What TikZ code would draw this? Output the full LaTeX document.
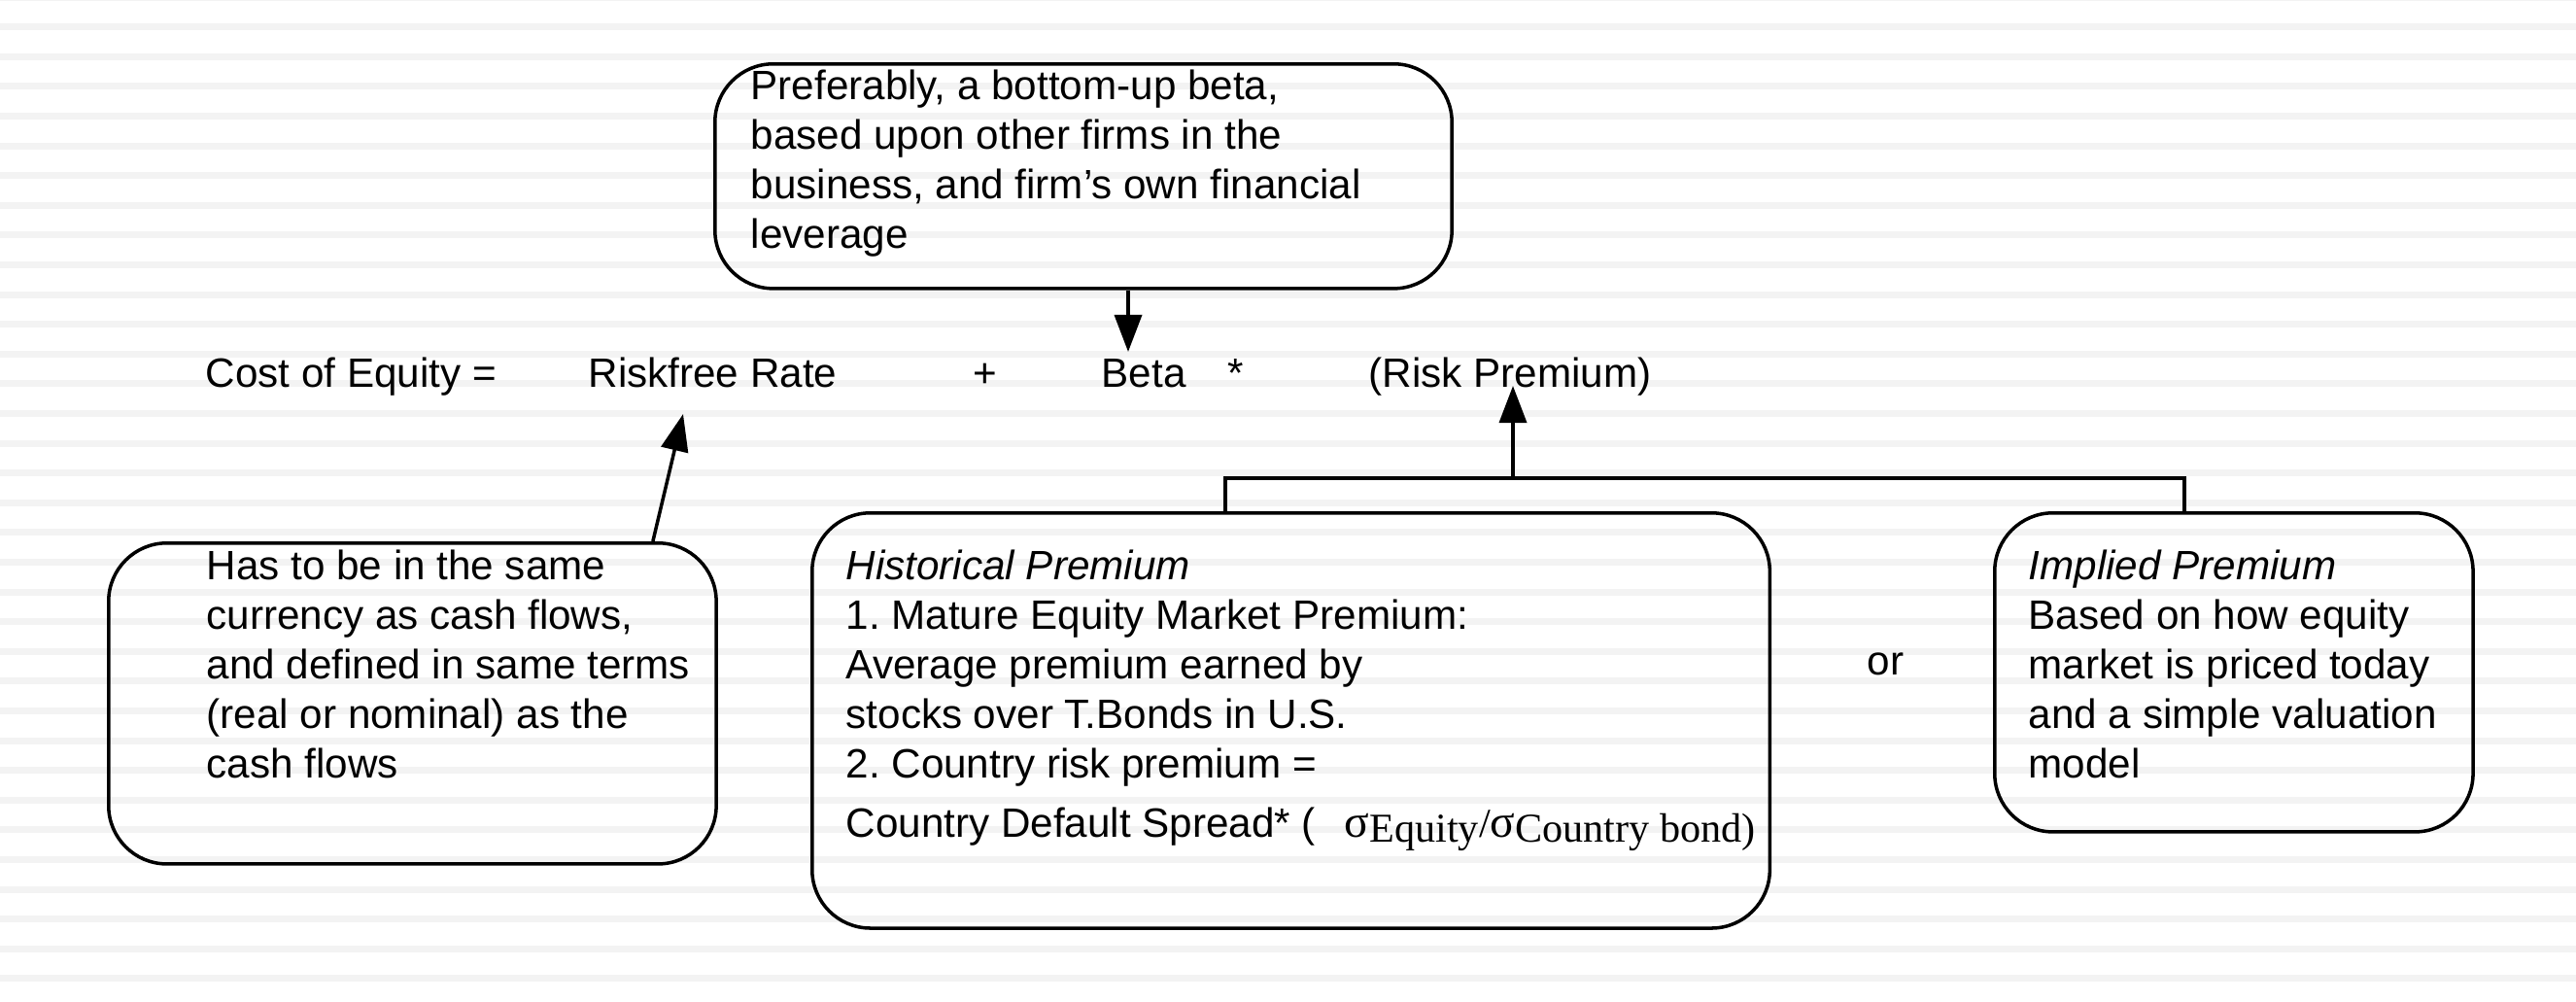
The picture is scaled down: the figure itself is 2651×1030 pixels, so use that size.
\documentclass[tikz,border=0pt]{standalone}
\usepackage{fontspec}
\setmainfont{Liberation Sans}
\newfontfamily\sigmafont{Liberation Serif}
\usepackage{tikz}
\usetikzlibrary{arrows.meta,calc}
\definecolor{stripegray}{RGB}{243,243,243}
\frenchspacing

\begin{document}
\begin{tikzpicture}[
  x=0.01cm, y=-0.01cm,
  box/.style={draw, line width=1pt, rounded corners=0.6cm, anchor=north west, inner sep=0pt},
  txt/.style={font=\fontsize{12}{14.5}\selectfont, align=left, anchor=base west, inner sep=0pt},
  arr/.style={-{Triangle[length=0.38cm, width=0.28cm]}, line width=1pt},
  link/.style={line width=1pt},
]
\useasboundingbox (0,0) rectangle (2651,1030);

% striped slide background
\foreach \k in {-1,...,32}
  \fill[stripegray] (0,{27.7+30.6*\k-3.5}) rectangle (2651,{27.7+30.6*\k+3.5});

% the formula line
\node[txt] (coe) at (211,398) {Cost of Equity =};
\node[txt] (rf) at (605,398) {Riskfree Rate};
\node[txt] (plus) at (1001,398) {+};
\node[txt] (beta) at (1133,398) {Beta};
\node[txt] (times) at (1263,398) {*};
\node[txt] (rp) at (1408,398) {(Risk Premium)};

% beta box (text nodes sit on the baseline of their last line)
\node[box, minimum width=7.58cm, minimum height=2.31cm] (betabox) at (734,64) {};
\node[txt] (betatext) at (772,255) {Preferably, a bottom-up beta,\\based upon other firms in the\\business, and firm’s own financial\\leverage};

% riskfree box
\node[box, minimum width=6.25cm, minimum height=3.30cm] (rfbox) at (110,557) {};
\node[txt] (rftext) at (212,800) {Has to be in the same\\currency as cash flows,\\and defined in same terms\\(real or nominal) as the\\cash flows};

% premium boxes
\node[box, minimum width=9.85cm, minimum height=4.27cm] (histbox) at (834,526) {};
\node[txt] (histtext) at (870,861) {\textit{Historical Premium}\\1. Mature Equity Market Premium:\\Average premium earned by\\stocks over T.Bonds in U.S.\\2. Country risk premium =\\[1mm]Country Default Spread* (\hspace{0.3cm}{\sigmafont{\fontsize{13.5}{14}\selectfont σ}\raisebox{-0.5mm}{Equity}/{\fontsize{13.5}{14}\selectfont σ}\raisebox{-0.5mm}{Country bond)}}};

\node[txt] (or) at (1921,694) {or};

\node[box, minimum width=4.92cm, minimum height=3.28cm] (implbox) at (2051,526) {};
\node[txt] (impltext) at (2087,800) {\textit{Implied Premium}\\Based on how equity\\market is priced today\\and a simple valuation\\model};

% connectors
\coordinate (betatip) at (1161,362);
\draw[arr] (betabox.south -| betatip) -- (betatip);

\coordinate (rftip) at (703,426);
\draw[arr] ($(rfbox.north east)+(-67,0)$) -- (rftip);

\coordinate (rpjoin) at (1557,492);
\coordinate (rptip) at (1557,397);
\draw[link] ($(histbox.north west)+(427,0)$) |- (rpjoin) -| ($(implbox.north west)+(197,0)$);
\draw[arr] (rpjoin) -- (rptip);
\end{tikzpicture}
\end{document}
